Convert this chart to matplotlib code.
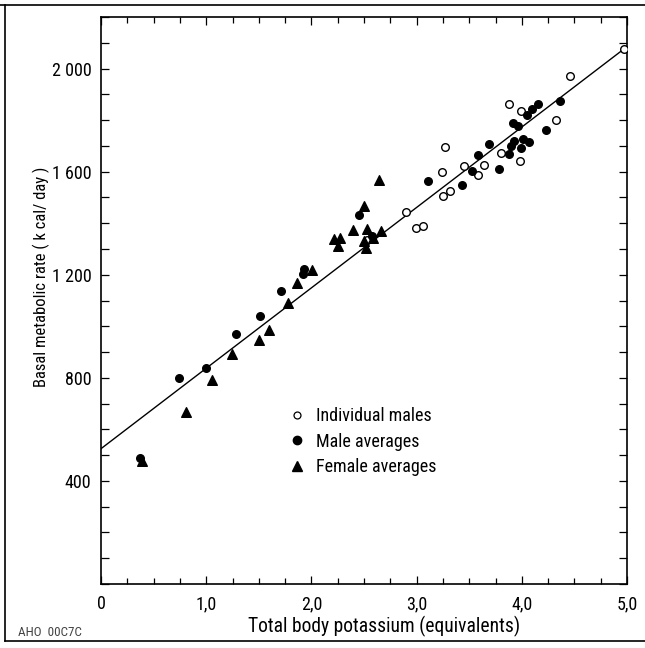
import matplotlib
matplotlib.use("Agg")
import matplotlib.pyplot as plt
from matplotlib import font_manager
from matplotlib.ticker import FixedLocator, MultipleLocator
from matplotlib.lines import Line2D

# pick a condensed sans face if one is installed
_installed = {f.name for f in font_manager.fontManager.ttflist}
_cands = ['Roboto Condensed', 'Archivo Narrow', 'PT Sans Narrow', 'IBM Plex Sans Condensed',
          'Liberation Sans Narrow', 'Open Sans Condensed', 'Fira Sans Condensed',
          'Encode Sans Condensed', 'Asap Condensed', 'Barlow Semi Condensed', 'Pragati Narrow',
          'Liberation Sans']
FONT = next((c for c in _cands if c in _installed), 'DejaVu Sans')
plt.rcParams['font.family'] = [FONT, 'DejaVu Sans']

# ---- data ----
ind_male_x = [2.53, 2.90, 2.99, 3.06, 3.245, 3.25, 3.32, 3.27, 3.455, 3.587, 3.64,
              3.80, 3.88, 3.99, 3.98, 4.325, 4.458, 4.97]
ind_male_y = [1333, 1445, 1380, 1390, 1597, 1507, 1523, 1696, 1623, 1586, 1627,
              1672, 1861, 1834, 1643, 1799, 1973, 2074]

male_avg_x = [0.37, 0.745, 0.995, 1.28, 1.511, 1.711, 1.917, 1.93, 2.45, 2.58,
              3.105, 3.435, 3.53, 3.587, 3.69, 3.786, 3.88, 3.895, 3.926, 3.92,
              3.96, 3.99, 4.01, 4.07, 4.05, 4.10, 4.157, 4.227, 4.363]
male_avg_y = [490, 799, 838, 971, 1041, 1135, 1204, 1223, 1433, 1350,
              1562, 1547, 1601, 1666, 1708, 1610, 1669, 1698, 1718, 1789,
              1776, 1692, 1727, 1714, 1821, 1843, 1864, 1760, 1873]

female_avg_x = [0.39, 0.805, 1.052, 1.248, 1.50, 1.60, 1.78, 1.86, 2.01, 2.215,
                2.27, 2.25, 2.40, 2.50, 2.645, 2.525, 2.50, 2.52, 2.59, 2.66]
female_avg_y = [478, 669, 792, 893, 945, 986, 1090, 1168, 1219, 1339,
                1342, 1310, 1375, 1465, 1569, 1379, 1329, 1304, 1342, 1368]

fit_x = [0.0, 5.0]
fit_intercept = 525
fit_slope = 312

x_ticks = [0, 1, 2, 3, 4, 5]
x_tick_labels = ["0", "1,0", "2,0", "3,0", "4,0", "5,0"]
y_ticks = [400, 800, 1200, 1600, 2000]
y_tick_labels = ["400", "800", "1 200", "1 600", "2 000"]

legend_labels = ["Individual males", "Male averages", "Female averages"]

# ---- figure ----
W, H = 645, 648
AX_L, AX_R, AX_T, AX_B = 101, 627, 17, 584
fig = plt.figure(figsize=(W / 100, H / 100), dpi=100)
ax = fig.add_axes([AX_L / W, 1 - AX_B / H, (AX_R - AX_L) / W, (AX_B - AX_T) / H])
renderer = fig.canvas.get_renderer()


def size_for(text, target_px, **kw):
    t = fig.text(0, 0, text, fontsize=20, **kw)
    w = t.get_window_extent(renderer).width
    t.remove()
    return 20 * target_px / w


fit_y = [fit_intercept + fit_slope * x for x in fit_x]
ax.plot(fit_x, fit_y, color='black', lw=1.0, zorder=2)

ax.scatter(ind_male_x, ind_male_y, s=30, facecolors='white', edgecolors='black',
           linewidths=1.0, zorder=3)
ax.scatter(male_avg_x, male_avg_y, s=30, c='black', marker='o', zorder=3)
ax.scatter(female_avg_x, female_avg_y, s=48, c='black', marker='^', zorder=3)

ax.set_xlim(0, 5.0)
ax.set_ylim(0, 2200)

ax.xaxis.set_major_locator(FixedLocator(x_ticks))
ax.set_xticklabels(x_tick_labels)
ax.xaxis.set_minor_locator(MultipleLocator(0.25))
ax.yaxis.set_major_locator(FixedLocator(y_ticks))
ax.set_yticklabels(y_tick_labels)
ax.yaxis.set_minor_locator(MultipleLocator(100))

ax.tick_params(which='both', direction='in', top=True, right=True, width=0.9)
ax.tick_params(which='major', length=6, labelsize=13)
ax.tick_params(axis='y', which='major', pad=7)
ax.tick_params(axis='x', which='major', pad=8)
ax.tick_params(which='minor', length=4)
ax.tick_params(axis='y', which='minor', length=6)
for s in ax.spines.values():
    s.set_linewidth(1.2)

xl = "Total body potassium (equivalents)"
yl = "Basal metabolic rate ( k cal/ day )"
ax.set_xlabel(xl, fontsize=size_for(xl, 272))
ax.xaxis.set_label_coords((384 - AX_L) / (AX_R - AX_L), -(626 - AX_B) / (AX_B - AX_T))
ax.xaxis.label.set_va('center')
ax.set_ylabel(yl, fontsize=size_for(yl, 220))
ax.yaxis.set_label_coords(-(AX_L - 41) / (AX_R - AX_L), (AX_B - 277) / (AX_B - AX_T))
ax.yaxis.label.set_va('center')

handles = [
    Line2D([], [], ls='none', marker='o', markersize=5, markerfacecolor='white',
           markeredgecolor='black', markeredgewidth=0.9),
    Line2D([], [], ls='none', marker='o', markersize=6, color='black'),
    Line2D([], [], ls='none', marker='^', markersize=7, color='black'),
]
leg_fs = size_for("Female averages", 120)
ax.legend(handles, legend_labels, loc='upper left',
          bbox_to_anchor=((286 - AX_L) / (AX_R - AX_L), 1 - (407 - AX_T) / (AX_B - AX_T)),
          bbox_transform=ax.transAxes, frameon=False, fontsize=leg_fs,
          handletextpad=0.45, labelspacing=0.42, handlelength=1.2,
          borderpad=0, borderaxespad=0)

# scan frame and archive code
fig.add_artist(Line2D([0, 1], [1 - 5 / H, 1 - 5 / H], color='black', lw=1.2,
                      transform=fig.transFigure))
fig.add_artist(Line2D([5 / W, 5 / W], [1 - 5 / H, 1 - 641 / H], color='black', lw=1.2,
                      transform=fig.transFigure))
fig.add_artist(Line2D([5 / W, 1], [1 - 641 / H, 1 - 641 / H], color='black', lw=1.2,
                      transform=fig.transFigure))
fig.text(18 / W, 1 - 632 / H, "AHO  00C7C", fontsize=size_for("AHO  00C7C", 64),
         color='#444444', va='center', ha='left')

fig.savefig("out.png", dpi=100)
